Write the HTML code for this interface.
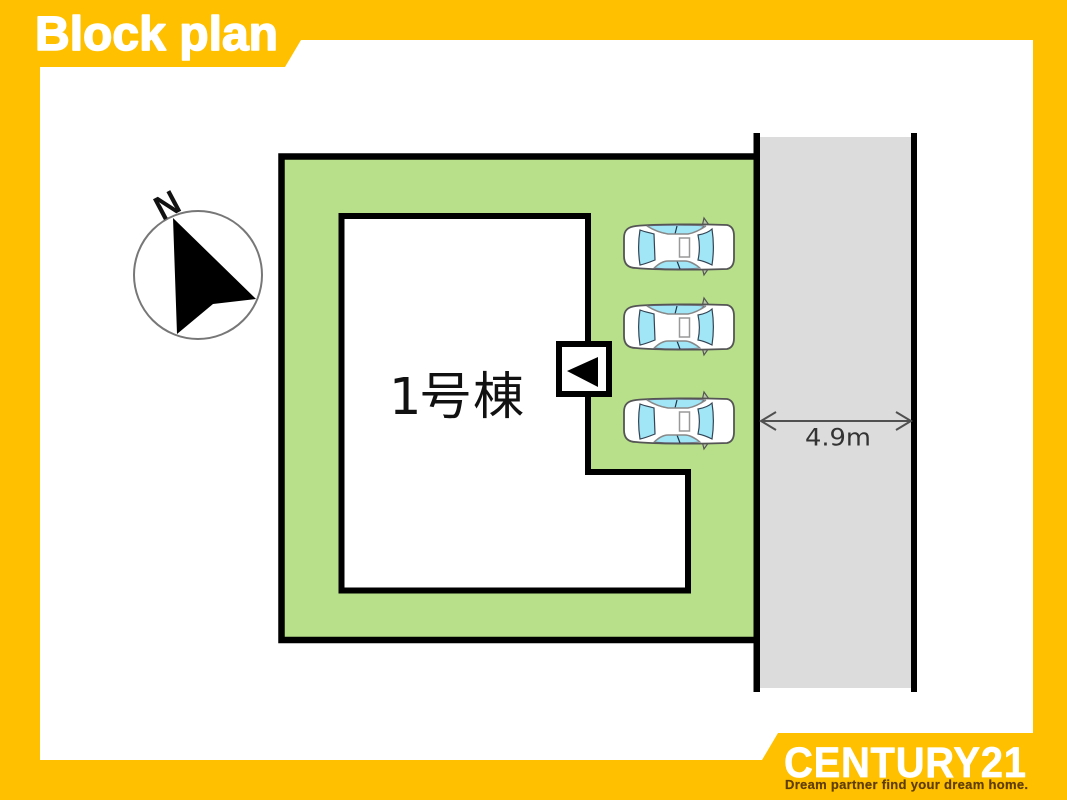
<!DOCTYPE html>
<html lang="en">
<head>
<meta charset="utf-8">
<title>Block plan</title>
<style>
html,body{margin:0;padding:0;width:1067px;height:800px;overflow:hidden;background:#ffc000}
svg{display:block}
</style>
</head>
<body>
<svg xmlns="http://www.w3.org/2000/svg" xmlns:xlink="http://www.w3.org/1999/xlink" width="1067" height="800" viewBox="0 0 1067 800">
  <defs>
    <g id="car">
      <!-- mirrors -->
      <path d="M702,227 L704,218 L709,225 Z M702,267 L704,275 L709,268 Z" fill="#b9c9a8" stroke="#555" stroke-width="1.200"/>
      <!-- body -->
      <path d="M636,226 C655,224 700,224 727,225 C732,226 734,230 734,236 L734,258 C734,264 732,268 727,269 C700,270 655,270 636,268 C628,268 624,264 624,256 L624,238 C624,230 628,227 636,226 Z" fill="#fff" stroke="#555" stroke-width="1.800"/>
      <!-- side windows -->
      <path d="M647,226 C665,225 690,225 704,226 C700,230 694,233 688,234 L668,234 C660,233 653,230 647,226 Z" fill="#a0e6f6" stroke="#667" stroke-width="0.800"/>
      <path d="M654,268 C668,269 686,269 700,268 C694,264 689,261 685,261 L668,261 C662,261 658,264 654,268 Z" fill="#a0e6f6" stroke="#667" stroke-width="0.800"/>
      <!-- rear/front windows -->
      <path d="M640,230 C645,232 651,233 654,234 L655,260 C650,262 645,264 640,265 C638,252 638,242 640,230 Z" fill="#a0e6f6" stroke="#345" stroke-width="1.200"/>
      <path d="M698,235 C704,234 709,232 712,229 C714,242 714,252 712,265 C708,263 704,261 698,260 C700,251 700,244 698,235 Z" fill="#a0e6f6" stroke="#345" stroke-width="1.200"/>
      <!-- pillars & sunroof -->
      <path d="M677,226 L675,234 M677,261 L680,269" stroke="#234" stroke-width="1.200" fill="none"/>
      <path d="M647,226 C655,231 662,233 668,234 L688,234 C694,233 700,230 706,226 M654,268 C659,264 663,261 668,261 L685,261 C690,261 695,264 700,268" fill="none" stroke="#888" stroke-width="1.400"/>
      <rect x="679.500" y="238" width="10" height="19" fill="#fff" stroke="#999" stroke-width="1.500"/>
    </g>
  </defs>

  <!-- frame -->
  <rect width="1067" height="800" fill="#ffc000"/>
  <polygon points="40,67 285,67 301,40 1033,40 1033,733 778,733 762,760 40,760" fill="#fff"/>

  <!-- heading -->
  <text x="35" y="50" font-family="'Liberation Sans',sans-serif" font-weight="700" font-size="48" fill="#fff" stroke="#fff" stroke-width="1.600" stroke-linejoin="round" textLength="243" lengthAdjust="spacing">Block plan</text>

  <!-- road -->
  <rect x="757" y="137" width="157" height="551" fill="#dcdcdc"/>

  <!-- site -->
  <path d="M757,156.500 L281.500,156.500 L281.500,640 L757,640 Z" fill="#b8e08a"/>
  <path d="M757,156.500 L281.500,156.500 L281.500,640 L757,640" fill="none" stroke="#000" stroke-width="6.500"/>
  <rect x="753.500" y="133" width="6.500" height="559" fill="#000"/>
  <rect x="911" y="133" width="6" height="559" fill="#000"/>

  <!-- building -->
  <polygon points="341.500,216 588,216 588,472 688,472 688,590.500 341.500,590.500" fill="#fff" stroke="#000" stroke-width="6"/>

  <!-- door marker -->
  <rect x="559" y="344" width="50" height="50" fill="#fff" stroke="#000" stroke-width="6"/>
  <polygon points="567,371 598,357 598,387" fill="#000"/>

  <!-- building label -->
  <text x="389 420 473" y="414" font-family="'DejaVu Sans','Noto Sans CJK JP',sans-serif" font-size="51" fill="#111">1号棟</text>

  <!-- cars -->
  <use xlink:href="#car" href="#car"/>
  <use xlink:href="#car" href="#car" y="80"/>
  <use xlink:href="#car" href="#car" y="174"/>

  <!-- dimension -->
  <g fill="none" stroke="#505050" stroke-width="2">
    <path d="M761,421 L911,421"/>
    <path d="M776,412 L761,421 L776,430"/>
    <path d="M896,412 L911,421 L896,430"/>
  </g>
  <text x="805" y="445.500" font-family="'DejaVu Sans',sans-serif" font-size="24" fill="#333" textLength="66" lengthAdjust="spacingAndGlyphs">4.9m</text>

  <!-- compass -->
  <circle cx="198" cy="275" r="64" fill="#fff" stroke="#777" stroke-width="2"/>
  <polygon points="173,218 256,299 213,304 177,334" fill="#000"/>
  <text transform="translate(162,221) rotate(-28)" font-family="'Liberation Sans',sans-serif" font-weight="700" font-size="34" fill="#111" textLength="24" lengthAdjust="spacingAndGlyphs">N</text>

  <!-- footer brand -->
  <text transform="translate(784,777) scale(1,1.070)" font-family="'Liberation Sans',sans-serif" font-weight="700" font-size="40" fill="#fff" stroke="#fff" stroke-width="0.600" stroke-linejoin="round" textLength="242" lengthAdjust="spacing">CENTURY21</text>
  <text x="785" y="789" font-family="'Liberation Sans',sans-serif" font-weight="700" font-size="13" fill="#5f3d00" stroke="#5f3d00" stroke-width="0.200" textLength="243" lengthAdjust="spacing">Dream partner find your dream home.</text>
</svg>
</body>
</html>
